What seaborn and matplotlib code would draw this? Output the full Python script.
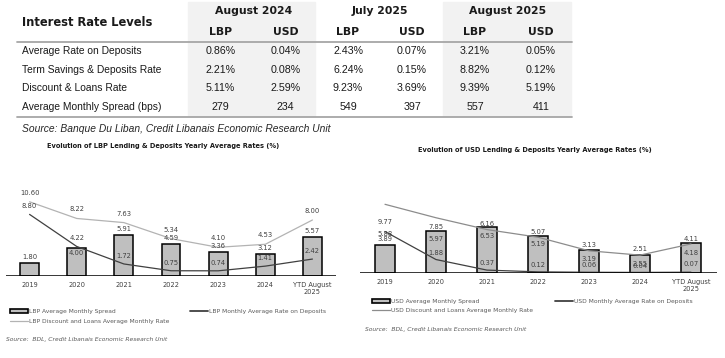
import matplotlib
matplotlib.use("Agg")
import matplotlib.pyplot as plt
from matplotlib.patches import Rectangle, Patch
from matplotlib.lines import Line2D
import seaborn as sns

# ---- table data ----
table_title = "Interest Rate Levels"
periods = ["August 2024", "July 2025", "August 2025"]
currencies = ["LBP", "USD"]
row_names = ["Average Rate on Deposits", "Term Savings & Deposits Rate",
             "Discount & Loans Rate", "Average Monthly Spread (bps)"]
aug24_lbp = ["0.86%", "2.21%", "5.11%", "279"]
aug24_usd = ["0.04%", "0.08%", "2.59%", "234"]
jul25_lbp = ["2.43%", "6.24%", "9.23%", "549"]
jul25_usd = ["0.07%", "0.15%", "3.69%", "397"]
aug25_lbp = ["3.21%", "8.82%", "9.39%", "557"]
aug25_usd = ["0.05%", "0.12%", "5.19%", "411"]
table_source = "Source: Banque Du Liban, Credit Libanais Economic Research Unit"

# ---- chart data ----
years = ["2019", "2020", "2021", "2022", "2023", "2024", "YTD August\n2025"]
lbp_spread = [1.80, 4.00, 5.91, 4.59, 3.36, 3.12, 5.57]
lbp_deposits = [8.80, 4.22, 1.72, 0.75, 0.74, 1.41, 2.42]
lbp_loans = [10.60, 8.22, 7.63, 5.34, 4.10, 4.53, 8.00]
usd_spread = [3.89, 5.97, 6.53, 5.19, 3.19, 2.55, 4.18]
usd_deposits = [5.88, 1.88, 0.37, 0.12, 0.06, 0.04, 0.07]
usd_loans = [9.77, 7.85, 6.16, 5.07, 3.13, 2.51, 4.11]
chart_source = "Source:  BDL, Credit Libanais Economic Research Unit"

W, H = 725, 358


def fx(x):
    return x / W


def fy(y):
    return 1 - y / H


sns.set_style("white")
plt.rcParams["font.family"] = ["DejaVu Sans"]

fig = plt.figure(figsize=(W / 100, H / 100), dpi=100)

# ---- table ----
for x0, x1 in [(188, 315), (443, 571)]:
    fig.add_artist(Rectangle((fx(x0), fy(116)), (x1 - x0) / W, 114 / H,
                             transform=fig.transFigure, color="#f2f2f2", zorder=0))
for yl in [41.5, 116.5]:
    fig.add_artist(Line2D([fx(17), fx(572)], [fy(yl), fy(yl)], color="#a6a6a6", lw=1.3))

fig.text(fx(22), fy(22), table_title, fontsize=8.3, fontweight="bold", va="center", color="#1a1a1a")
col_x = [220.7, 285.7, 348, 412, 475, 541]
columns = [aug24_lbp, aug24_usd, jul25_lbp, jul25_usd, aug25_lbp, aug25_usd]
row_y = [51, 70, 88, 107]
for k, p in enumerate(periods):
    cx = (col_x[2 * k] + col_x[2 * k + 1]) / 2
    fig.text(fx(cx), fy(11), p, fontsize=7.8, fontweight="bold", ha="center", va="center", color="#1a1a1a")
    for j, c in enumerate(currencies):
        fig.text(fx(col_x[2 * k + j]), fy(32), c, fontsize=7.8, fontweight="bold",
                 ha="center", va="center", color="#1a1a1a")
for i, name in enumerate(row_names):
    fig.text(fx(22), fy(row_y[i]), name, fontsize=7.4, family="Liberation Sans", va="center", color="#1a1a1a")
    for cx, col in zip(col_x, columns):
        fig.text(fx(cx), fy(row_y[i]), col[i], fontsize=7.7, family="Liberation Sans",
                 ha="center", va="center", color="#1a1a1a")
fig.text(fx(22), fy(129), table_source, fontsize=7.4, family="Liberation Sans", style="italic",
         va="center", color="#262626")


# ---- charts ----
def draw_chart(box, ytop, spread, deposits, loans, cur, spread_off, dep_off, loan_off,
               loan_color, title_xy, leg_xy, leg2_x, leg_gap, src_xy):
    x0, y_base, x1 = box
    ax = fig.add_axes([fx(x0), fy(y_base), (x1 - x0) / W, ytop * 7 / H])
    sns.barplot(x=years, y=spread, color="#bfbfbf", saturation=1, edgecolor="black",
                linewidth=1.1, width=0.4, ax=ax, zorder=2)
    sns.pointplot(x=years, y=loans, color=loan_color, markers="", linestyles="-",
                  linewidth=0.9, errorbar=None, ax=ax, zorder=3)
    sns.pointplot(x=years, y=deposits, color="#404040", markers="", linestyles="-",
                  linewidth=0.9, errorbar=None, ax=ax, zorder=3)
    ax.set_xlim(-0.5, 6.5)
    ax.set_ylim(0, ytop)
    ax.set_yticks([])
    ax.set_xlabel("")
    ax.set_ylabel("")
    for s in ax.spines.values():
        s.set_visible(False)
    ax.axhline(0, color="black", lw=1.1, zorder=4)
    ax.tick_params(axis="x", length=0, pad=4.2, labelsize=4.8, labelcolor="#404040")
    for vals, offs in [(spread, spread_off), (deposits, dep_off), (loans, loan_off)]:
        for i, v in enumerate(vals):
            ax.annotate(f"{v:.2f}", (i, v), xytext=(0, offs[i] * 0.72), textcoords="offset points",
                        ha="center", va="center", fontsize=4.9, color="#404040", zorder=5)
    fig.text(fx(title_xy[0]), fy(title_xy[1]),
             f"Evolution of {cur} Lending & Deposits Yearly Average Rates (%)",
             fontsize=4.8, fontweight="bold", ha="center", va="center", color="#1a1a1a")
    h_spread = Patch(facecolor="#bfbfbf", edgecolor="black", lw=1.2)
    h_loans = Line2D([], [], color=loan_color, lw=0.9)
    h_dep = Line2D([], [], color="#404040", lw=1.3)
    common = dict(frameon=False, fontsize=4.3, loc="upper left", borderpad=0, borderaxespad=0,
                  handlelength=3.0, handletextpad=0.2, labelspacing=leg_gap,
                  bbox_transform=fig.transFigure, labelcolor="#595959")
    fig.legend([h_spread, h_loans],
               [f"{cur} Average Monthly Spread", f"{cur} Discount and Loans Average Monthly Rate"],
               bbox_to_anchor=(fx(leg_xy[0]), fy(leg_xy[1])), **common)
    fig.legend([h_dep], [f"{cur} Monthly Average Rate on Deposits"],
               bbox_to_anchor=(fx(leg2_x), fy(leg_xy[1])), **common)
    fig.text(fx(src_xy[0]), fy(src_xy[1]), chart_source, fontsize=4.3, style="italic",
             va="center", color="#595959")
    return ax


draw_chart((6, 276, 336), 18.0, lbp_spread, lbp_deposits, lbp_loans, "LBP",
           spread_off=[6, -5, 6, 6, 6, 6, 6], dep_off=[8] * 7, loan_off=[9] * 7,
           loan_color="#b3b3b3", title_xy=(163, 146), leg_xy=(10, 308.5), leg2_x=190,
           leg_gap=0.85, src_xy=(6, 339))
draw_chart((359.5, 272.7, 716.5), 17.5, usd_spread, usd_deposits, usd_loans, "USD",
           spread_off=[6, -8, -9, -8, -9, -9, -10], dep_off=[-2, 7, 7, 7, 7, 6, 8],
           loan_off=[-18, -9, 6, 5, 6, 6, 5],
           loan_color="#8c8c8c", title_xy=(534.5, 150), leg_xy=(372, 299), leg2_x=555,
           leg_gap=0.55, src_xy=(365, 330))

fig.savefig("out.png", dpi=100)
